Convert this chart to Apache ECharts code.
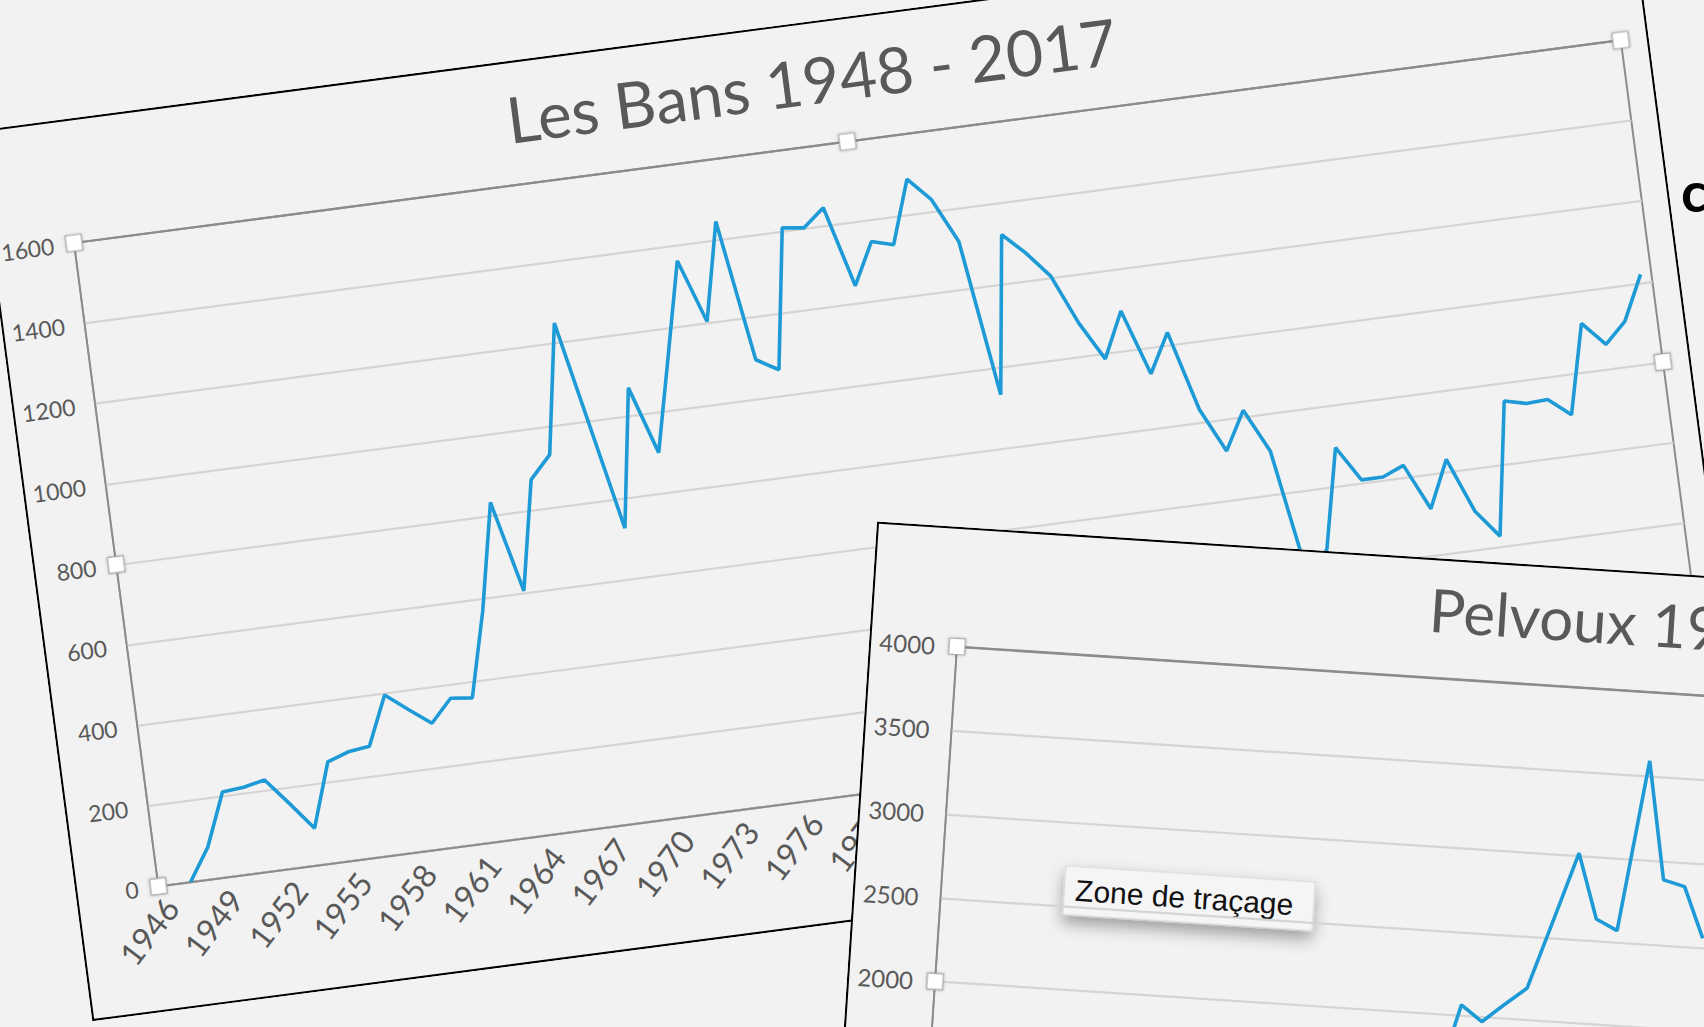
<!DOCTYPE html>
<html>
<head>
<meta charset="utf-8">
<script src="https://cdn.jsdelivr.net/npm/echarts@6/dist/echarts.min.js"></script>
<style>
  html, body { margin: 0; padding: 0; width: 1704px; height: 1027px; overflow: hidden; background: #f2f2f2; }
  /* the two excel charts are photographed at an angle, so each frame is turned */
  #bans { position: absolute; left: -9.1px; top: 119.4px; width: 1671px; height: 898px;
          transform-origin: 83px 124px; transform: rotate(-7.47deg); }
  #pelvoux { position: absolute; left: 868.7px; top: 527.2px; width: 1676px; height: 931px;
             transform-origin: 88px 119.5px; transform: rotate(3.75deg); }
  #slide { position: absolute; left: 1681px; top: 163px; font: bold 56px Lato; line-height: 56px; color: #000; }
</style>
</head>
<body>
<div id="slide">c</div>
<div id="bans"></div>
<div id="pelvoux"></div>
<script>
// annees communes aux deux graphiques
const years = ['1946','1947','1948','1949','1950','1951','1952','1953','1954','1955','1956','1957',
  '1958','1959','1960','1961','1962','1963','1964','1965','1966','1967','1968','1969',
  '1970','1971','1972','1973','1974','1975','1976','1977','1978','1979','1980','1981',
  '1982','1983','1984','1985','1986','1987','1988','1989','1990','1991','1992','1993',
  '1994','1995','1996','1997','1998','1999','2000','2001','2002','2003','2004','2005',
  '2006','2007','2008','2009','2010','2011','2012','2013','2014','2015','2016','2017'];

// Les Bans, une valeur par annee (1946 vide)
const bansValues = [null, 0, 80, 210, 215, 226, 160, 92, 250, 268, 275, 395,
  352, 311, 366, 360, 570, 832, 605, 875, 930, 1250, 988, 726,
  1068, 900, 1130, 1363, 1205, 1447, 1096, 1064, 1410, 1403, 1446, 1245,
  1348, 1333, 1489, 1431, 1320, 932, 1323, 1270, 1206, 1082, 986, 1098,
  935, 1031, 832, 722, 816, 707, 380, 450, 695, 608, 608, 630,
  515, 631, 495, 426, 755, 742, 745, 700, 920, 861, 911, 1021];

// Pelvoux : seule la partie visible de la courbe
const pelvouxYears = ['1969','1970','1971','1972','1973','1974','1975','1976','1977','1978','1979','1980','1981'];
const pelvouxValues = [1560, 2066, 1974, 2085, 2191, 2600, 3014, 2629, 2568, 3590, 2888, 2856, 2555];

const grey = '#595959';
const lineBlue = '#1e9bd6';
// 9 lignes de quadrillage, la derniere (haut de la zone) plus foncee
const gridColors = ['#d4d4d4','#d4d4d4','#d4d4d4','#d4d4d4','#d4d4d4','#d4d4d4','#d4d4d4','#d4d4d4','#8c8c8c'];

// petits carres blancs de selection autour de la zone de tracage
function handles(l, t, w, h) {
  const pts = [[0,0],[0.5,0],[1,0],[0,0.5],[1,0.5],[0,1],[0.5,1],[1,1]];
  return pts.map(function (p) {
    return {
      type: 'rect', z: 100,
      shape: { x: l + p[0] * w - 8, y: t + p[1] * h - 8, width: 16, height: 16 },
      style: { fill: '#fff', stroke: '#a6a6a6', lineWidth: 1.2,
               shadowBlur: 3, shadowColor: 'rgba(0,0,0,0.25)' }
    };
  });
}

function frame(w, h) {
  return { type: 'rect', z: 90, silent: true,
    shape: { x: 1, y: 1, width: w - 2, height: h - 2 },
    style: { fill: 'none', stroke: '#000', lineWidth: 2.2 } };
}

function plain(v) { return String(v); }

// ---- Les Bans ----
let bansChart = echarts.init(document.getElementById('bans'), null, { renderer: 'svg' });
let bansGrid = { left: 83, top: 124, width: 1560, height: 648.8 };
bansChart.setOption({
  animation: false,
  backgroundColor: '#f2f2f2',
  title: {
    text: 'Les Bans 1948 - 2017',
    left: 'center', top: 26, padding: 0,
    textStyle: { fontFamily: 'Lato', fontSize: 64, fontWeight: 'normal', color: grey }
  },
  grid: Object.assign({ show: true, borderColor: '#8c8c8c', borderWidth: 2 }, bansGrid),
  xAxis: {
    type: 'category',
    data: years,
    boundaryGap: true,
    axisLine: { lineStyle: { color: '#8c8c8c', width: 2 } },
    axisTick: { show: false },
    axisLabel: { interval: 2, rotate: 45, margin: 17, fontFamily: 'Lato', fontSize: 32, color: grey }
  },
  yAxis: {
    type: 'value', min: 0, max: 1600, interval: 200,
    axisLine: { show: true, lineStyle: { color: '#8c8c8c', width: 1.5 } },
    splitLine: { lineStyle: { color: gridColors, width: 2.2 } },
    axisLabel: { margin: 20, fontFamily: 'Lato', fontSize: 23, color: grey, formatter: plain }
  },
  series: [{
    name: 'Les Bans',
    type: 'line',
    data: bansValues,
    symbol: 'none',
    lineStyle: { color: lineBlue, width: 3.6 }
  }],
  graphic: [frame(1671, 898)].concat(handles(bansGrid.left, bansGrid.top, bansGrid.width, bansGrid.height))
});

// ---- Pelvoux ----
let pelChart = echarts.init(document.getElementById('pelvoux'), null, { renderer: 'svg' });
let pelGrid = { left: 88, top: 119.5, width: 1548, height: 671.4 };
pelChart.setOption({
  animation: false,
  backgroundColor: '#f2f2f2',
  title: {
    text: 'Pelvoux 1948 - 2017',
    left: 557, top: 21, padding: 0,
    textStyle: { fontFamily: 'Lato', fontSize: 60, fontWeight: 'normal', color: grey }
  },
  grid: Object.assign({ show: true, borderColor: '#8c8c8c', borderWidth: 2 }, pelGrid),
  xAxis: {
    type: 'category',
    data: years,
    boundaryGap: true,
    axisLine: { lineStyle: { color: '#8c8c8c', width: 2 } },
    axisTick: { show: false },
    axisLabel: { interval: 2, rotate: 45, margin: 17, fontFamily: 'Lato', fontSize: 32, color: grey }
  },
  yAxis: {
    type: 'value', min: 0, max: 4000, interval: 500,
    axisLine: { show: true, lineStyle: { color: '#8c8c8c', width: 1.5 } },
    splitLine: { lineStyle: { color: gridColors, width: 2.2 } },
    axisLabel: { margin: 22, fontFamily: 'Lato', fontSize: 24, color: grey, formatter: plain }
  },
  series: [{
    name: 'Pelvoux',
    type: 'line',
    data: pelvouxYears.map(function (y, i) { return [y, pelvouxValues[i]]; }),
    symbol: 'none',
    lineStyle: { color: lineBlue, width: 3.6 }
  }],
  graphic: [frame(1676, 931)]
    .concat(handles(pelGrid.left, pelGrid.top, pelGrid.width, pelGrid.height))
    .concat([{
      type: 'group', x: 211, y: 331, z: 120,
      children: [
        { type: 'rect', shape: { x: 0, y: 0, width: 250, height: 49 },
          style: { fill: '#f5f5f5', stroke: '#d2d2d2', lineWidth: 1,
                   shadowBlur: 16, shadowOffsetY: 8, shadowColor: 'rgba(0,0,0,0.35)' } },
        { type: 'text', x: 11, y: 9,
          style: { text: 'Zone de traçage', font: '30px "Liberation Sans"', fill: '#111',
                   verticalAlign: 'top' } }
      ]
    }])
});
</script>
</body>
</html>
